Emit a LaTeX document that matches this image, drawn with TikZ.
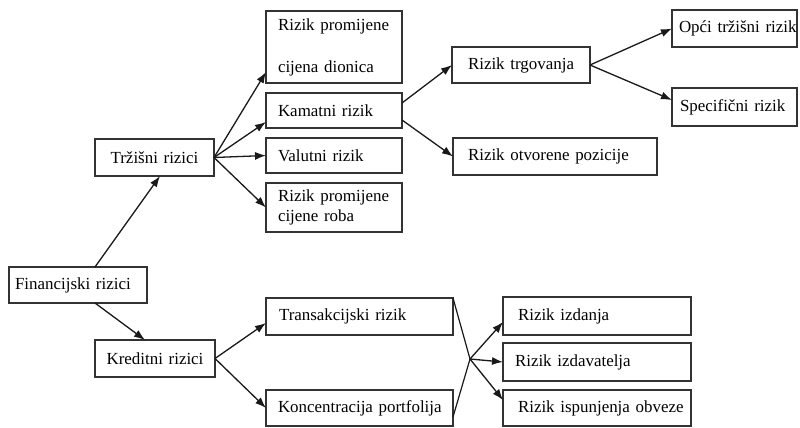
\documentclass[tikz,border=0pt]{standalone}
\usepackage{fontspec}
\setmainfont{Liberation Serif}
\usetikzlibrary{arrows.meta,calc}
\begin{document}
\begin{tikzpicture}[x=1bp,y=-1bp,
  box/.style={draw=black!80, line width=1.4bp, anchor=north west, inner xsep=0pt, inner ysep=0pt,
    outer sep=0pt, align=left, font=\fontsize{17}{20}\selectfont},
  cbox/.style={box, align=center},
  arr/.style={draw=black!90, line width=1.3bp, -{Latex[length=11bp,width=8bp]}},
  ln/.style={draw=black!90, line width=1.2bp}]
\useasboundingbox (0,0) rectangle (800,427);
\fill[white] (0,0) rectangle (800,427);
% nodes
\node[box, minimum width=138bp, text width=138bp, minimum height=36bp] (fin) at (9,267) {\hspace*{6bp}Financijski rizici};
\node[cbox, minimum width=119bp, text width=119bp, minimum height=37bp] (trz) at (95,139) {Tržišni rizici};
\node[cbox, minimum width=120bp, text width=120bp, minimum height=37bp] (kred) at (95,340) {Kreditni rizici};
\node[box, minimum width=136bp, text width=136bp, minimum height=72bp] (dion) at (266,11) {\hspace*{12bp}Rizik promijene\\[22bp]\hspace*{12bp}cijena dionica};
\node[box, minimum width=136bp, text width=136bp, minimum height=35bp] (kam) at (266,93) {\hspace*{12bp}Kamatni rizik};
\node[box, minimum width=136bp, text width=136bp, minimum height=35bp] (val) at (266,138) {\hspace*{12bp}Valutni rizik};
\node[box, minimum width=136bp, text width=136bp, minimum height=49bp] (roba) at (266,183) {\hspace*{12bp}Rizik promijene\\\hspace*{12bp}cijene roba};
\node[box, minimum width=138bp, text width=138bp, minimum height=36bp] (trg) at (452,47) {\hspace*{16bp}Rizik trgovanja};
\node[box, minimum width=204bp, text width=204bp, minimum height=37bp] (otv) at (453,138) {\hspace*{15bp}Rizik otvorene pozicije};
\node[box, minimum width=125bp, text width=125bp, minimum height=37bp] (opci) at (672,10) {\hspace*{7bp}\mbox{Opći tržišni rizik}};
\node[box, minimum width=125bp, text width=125bp, minimum height=38bp] (spec) at (672,88) {\hspace*{8bp}Specifični rizik};
\node[box, minimum width=187bp, text width=187bp, minimum height=37bp] (trans) at (266,298) {\hspace*{13bp}Transakcijski rizik};
\node[box, minimum width=187bp, text width=187bp, minimum height=36bp] (konc) at (266,390) {\hspace*{12bp}Koncentracija portfolija};
\node[box, minimum width=188bp, text width=188bp, minimum height=38bp] (izd) at (503,297) {\hspace*{15bp}Rizik izdanja};
\node[box, minimum width=188bp, text width=188bp, minimum height=38bp] (izdv) at (503,343) {\hspace*{12bp}Rizik izdavatelja};
\node[box, minimum width=188bp, text width=188bp, minimum height=36bp] (isp) at (503,390) {\hspace*{15bp}Rizik ispunjenja obveze};
\coordinate (j) at (470,359);
% connectors
\draw[arr] ($(fin.north west)+(86,0)$) -- ($(trz.south west)+(65,0)$);
\draw[arr] ($(fin.south west)+(86,0)$) -- ($(kred.north west)+(50,0)$);
\draw[arr] (trz.east) -- ($(dion.south west)+(0,-11)$);
\draw[arr] (trz.east) -- ($(kam.south west)+(0,-6)$);
\draw[arr] (trz.east) -- (val.west);
\draw[arr] (trz.east) -- (roba.west);
\draw[arr] ($(kam.north east)+(0,10)$) -- (trg.west);
\draw[arr] ($(kam.south east)+(0,-8)$) -- (otv.west);
\draw[arr] (trg.east) -- (opci.west);
\draw[arr] (trg.east) -- ($(spec.north west)+(0,12)$);
\draw[arr] (kred.east) -- ($(trans.north west)+(0,25)$);
\draw[arr] (kred.east) -- (konc.west);
\draw[ln] (trans.north east) -- (j);
\draw[ln] ($(konc.north east)+(0,27)$) -- (j);
\draw[arr] (j) -- ($(izd.north west)+(0,25)$);
\draw[arr] (j) -- (izdv.west);
\draw[arr] (j) -- ($(isp.north west)+(0,10)$);
\end{tikzpicture}
\end{document}
